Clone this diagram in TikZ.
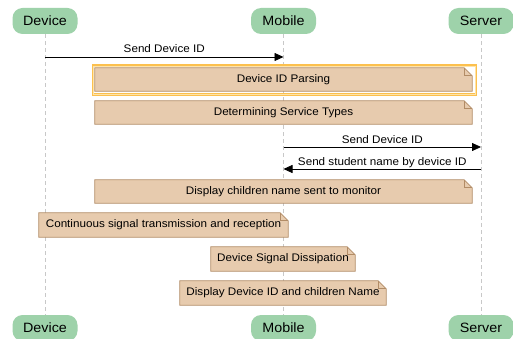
\documentclass[tikz,border=0pt]{standalone}
\usepackage{fontspec}
\setmainfont{Liberation Sans}
\newfontfamily\lblfont{Liberation Sans}[FakeStretch=1.06]
\usetikzlibrary{arrows.meta,backgrounds}
\definecolor{hdr}{RGB}{158,210,170}
\definecolor{notefill}{RGB}{231,203,174}
\definecolor{noteline}{RGB}{178,140,102}
\definecolor{hilite}{RGB}{252,192,78}
\definecolor{hilitein}{RGB}{254,228,170}
\definecolor{lifecol}{RGB}{200,200,200}
\tikzset{
  hdrbox/.style={rounded corners=10pt, fill=hdr, draw=none, minimum width=65pt, minimum height=26pt, inner sep=0pt, font=\lblfont\fontsize{13.5}{15}\selectfont},
  life/.style={draw=lifecol, line width=0.9pt, dash pattern=on 4pt off 3pt},
  msg/.style={draw=black, line width=0.8pt, -{Triangle[length=9pt,width=8pt]}},
  msglbl/.style={font=\lblfont\fontsize{11}{13}\selectfont, inner sep=0pt, anchor=base},
  notetext/.style={font=\lblfont\fontsize{11}{13}\selectfont, inner sep=0pt, draw=none},
  noteshape/.style={fill=notefill, draw=noteline, line width=0.8pt, line join=miter},
}
% name, x1, y1, x2, y2, text
\newcommand\mynote[6]{%
  \node[notetext, minimum width={(#4-#2)*1pt}, minimum height={(#5-#3)*1pt}] (#1) at ({(#2+#4)/2},{(#3+#5)/2}) {#6};
  \begin{scope}[on background layer]
    \path[noteshape] (#1.south west) -- (#1.north west) -- ([xshift=-8pt]#1.north east) -- ([yshift=-8pt]#1.north east) -- (#1.south east) -- cycle;
    \draw[noteline, line width=0.8pt] ([xshift=-8pt]#1.north east) -- ([xshift=-8pt,yshift=-8pt]#1.north east) -- ([yshift=-8pt]#1.north east);
  \end{scope}
}
\begin{document}
\begin{tikzpicture}[x=1pt, y=-1pt]
\useasboundingbox (0,0) rectangle (513,339);
% participants
\node[hdrbox] (devT) at (45,21) {Device};
\node[hdrbox] (mobT) at (283.5,21) {Mobile};
\node[hdrbox] (srvT) at (481,21) {Server};
\node[hdrbox] (devB) at (45,328) {Device};
\node[hdrbox] (mobB) at (283.5,328) {Mobile};
\node[hdrbox] (srvB) at (481,328) {Server};
% lifelines
\begin{scope}[on background layer]
\fill[white] (0,0) rectangle (513,339);
\draw[life] (devT.south) -- (devB.north);
\draw[life] (mobT.south) -- (mobB.north);
\draw[life] (srvT.south) -- (srvB.north);
\end{scope}
% message 1
\coordinate (m1a) at (45,57);
\coordinate (m1b) at (283.5,57);
\draw[msg] (m1a) -- (m1b) node[msglbl, midway, yshift=4pt] (l1) {Send Device ID};
% notes
\mynote{n1}{95}{68}{472}{91}{Device ID Parsing}
\mynote{n2}{95}{101}{472}{124}{Determining Service Types}
% highlight around note 1
\node[draw=hilite, line width=2.6pt, minimum width=383pt, minimum height=29pt, inner sep=0pt] (hl) at (284.5,80) {};
\draw[hilitein, line width=0.6pt] ([xshift=1.8pt,yshift=-1.8pt]hl.north west) rectangle ([xshift=-1.8pt,yshift=1.8pt]hl.south east);
% messages 2,3
\coordinate (m2a) at (283.5,147);
\coordinate (m2b) at (481,147);
\draw[msg] (m2a) -- (m2b) node[msglbl, midway, yshift=4pt] (l2) {Send Device ID};
\coordinate (m3a) at (481,169);
\coordinate (m3b) at (283.5,169);
\draw[msg] (m3a) -- (m3b) node[msglbl, midway, yshift=4pt] (l3) {Send student name by device ID};
\mynote{n3}{95}{180}{472}{203}{Display children name sent to monitor}
\mynote{n4}{39}{213}{288}{237}{Continuous signal transmission and reception}
\mynote{n5}{211}{247}{355}{271}{Device Signal Dissipation}
\mynote{n6}{180}{281}{386}{305}{Display Device ID and children Name}
\end{tikzpicture}
\end{document}
